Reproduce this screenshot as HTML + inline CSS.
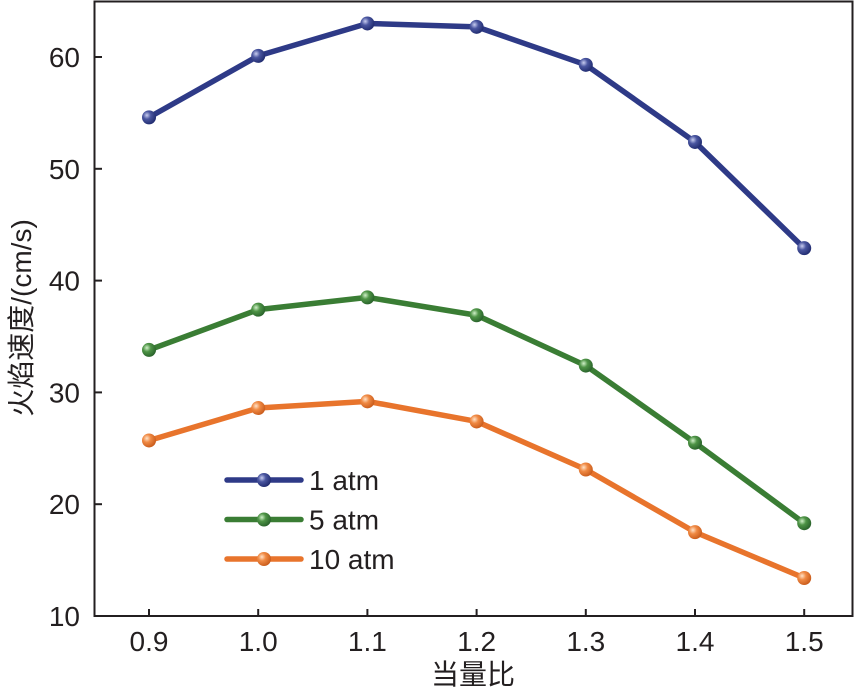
<!DOCTYPE html>
<html><head><meta charset="utf-8"><style>
body{margin:0;background:#fff}
svg text{font-family:"Liberation Sans","Noto Sans CJK SC",sans-serif;fill:#231f20}
</style></head><body>
<svg id="chart" width="860" height="687" xmlns="http://www.w3.org/2000/svg">
<defs>
<radialGradient id="gb" cx="0.35" cy="0.35" r="0.7"><stop offset="0" stop-color="#c8cdf0"/><stop offset="0.4" stop-color="#4a56a0"/><stop offset="1" stop-color="#1f2a6e"/></radialGradient>
<radialGradient id="gg" cx="0.35" cy="0.35" r="0.7"><stop offset="0" stop-color="#d0f0c8"/><stop offset="0.4" stop-color="#4e9446"/><stop offset="1" stop-color="#28612a"/></radialGradient>
<radialGradient id="go" cx="0.35" cy="0.35" r="0.7"><stop offset="0" stop-color="#ffe2c8"/><stop offset="0.4" stop-color="#f08a44"/><stop offset="1" stop-color="#c85a1a"/></radialGradient>
</defs>
<g id="plot"></g>
</svg>
<script>
const categories=[0.9,1.0,1.1,1.2,1.3,1.4,1.5];
const atm1=[54.6,60.1,63.0,62.7,59.3,52.4,42.9];
const atm5=[33.8,37.4,38.5,36.9,32.4,25.5,18.3];
const atm10=[25.7,28.6,29.2,27.4,23.1,17.5,13.4];
const yTicks=[10,20,30,40,50,60];
const seriesNames=["1 atm","5 atm","10 atm"];
const NS="http://www.w3.org/2000/svg";
const g=document.getElementById('plot');
const X=v=>149+(v-0.9)/0.1*109.2;
const Y=v=>616-(v-10)*11.18;
function mk(t,a,p){const e=document.createElementNS(NS,t);for(const k in a)e.setAttribute(k,a[k]);(p||g).appendChild(e);return e;}
let frame=mk('rect',{x:94.5,y:1.5,width:758,height:614.5,fill:'none',stroke:'#231f20','stroke-width':2});


yTicks.forEach(v=>{
 let t=mk('line',{x1:95,x2:102,y1:Y(v),y2:Y(v),stroke:'#231f20','stroke-width':2});
 
 
 let l=mk('text',{x:80,y:Y(v)+10,'text-anchor':'end','font-size':28});l.textContent=v;
 
 
});
categories.forEach(v=>{
 let t=mk('line',{x1:X(v),x2:X(v),y1:616,y2:609,stroke:'#231f20','stroke-width':2});
 
 
 let l=mk('text',{x:X(v),y:651,'text-anchor':'middle','font-size':28});l.textContent=v.toFixed(1);
 
 
});
let xt=mk('text',{x:473,y:684,'text-anchor':'middle','font-size':28});xt.textContent='当量比';


let yt=mk('text',{x:0,y:0,'text-anchor':'middle','font-size':28,transform:'translate(31,318) rotate(-90)'});yt.textContent='火焰速度/(cm/s)';


const series=[[atm1,'#2e3a87','gb'],[atm5,'#3a7d34','gg'],[atm10,'#e8742c','go']];
series.forEach((s,i)=>{
 let pl=mk('polyline',{points:s[0].map((v,j)=>X(categories[j])+','+Y(v)).join(' '),fill:'none',stroke:s[1],'stroke-width':5.5,'stroke-linejoin':'round'});
 
 
 s[0].forEach((v,j)=>{
  let c=mk('circle',{cx:X(categories[j]),cy:Y(v),r:7,fill:'url(#'+s[2]+')'});
  
  
 });
 const ly=480+i*39.5;
 let lg=mk('g',{});
 
 
 mk('line',{x1:227,x2:301,y1:ly,y2:ly,stroke:s[1],'stroke-width':5.5,'stroke-linecap':'round'},lg);
 mk('circle',{cx:264,cy:ly,r:7,fill:'url(#'+s[2]+')'},lg);
 let lt=mk('text',{x:309,y:ly+10,'font-size':28},lg);lt.textContent=seriesNames[i];
});
</script>
</body></html>
